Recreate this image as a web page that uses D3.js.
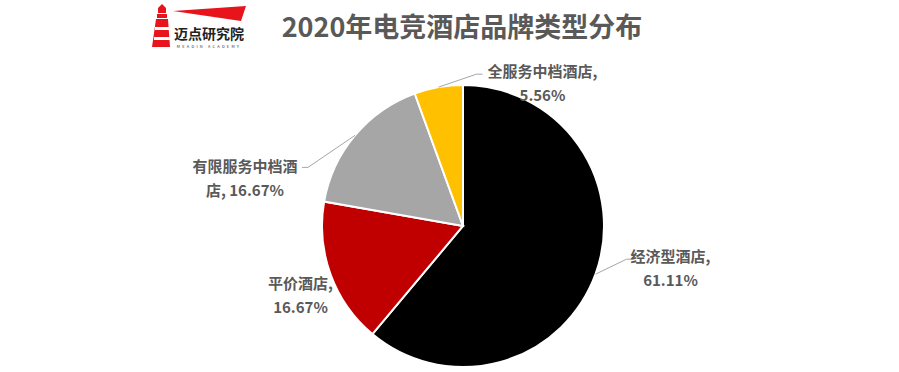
<!DOCTYPE html>
<html>
<head>
<meta charset="utf-8">
<script src="https://cdn.jsdelivr.net/npm/d3@7"></script>
<style>
  body { margin: 0; background: #fff; }
  svg text { font-family: "Noto Sans CJK SC", "Noto Sans", sans-serif; }
</style>
</head>
<body>
<div id="viz"></div>
<script>
// data
const categories = ["经济型酒店", "平价酒店", "有限服务中档酒店", "全服务中档酒店"];
const shares = [61.11, 16.67, 16.67, 5.56];
const colors = ["#000000", "#c00000", "#a6a6a6", "#ffc000"];
const title = "2020年电竞酒店品牌类型分布";

// label layout: two text lines per slice, offsets relative to the slice's outer mid point
const labelLines = [
  [categories[0] + ",", shares[0].toFixed(2) + "%"],
  [categories[1] + ",", shares[1].toFixed(2) + "%"],
  ["有限服务中档酒", "店, " + shares[2].toFixed(2) + "%"],
  [categories[3] + ",", shares[3].toFixed(2) + "%"]
];
const labelPos = [
  { dx: 75, dy: -12, elbow: [31, -15], end: [36, -15] },
  { dx: -30, dy: 15, elbow: null },
  { dx: -110, dy: 37, elbow: [-47, 32], end: [-53, 32] },
  { dx: 104, dy: -10, elbow: [38, -13], end: [44, -13] }
];

const width = 899, height = 372;
const cx = 463, cy = 226, radius = 141;

const svg = d3.select("#viz").append("svg")
  .attr("width", width)
  .attr("height", height);

// logo
const logo = svg.append("g");
logo.append("path")
  .attr("d", "M158,8 L162,4 L166,8 L166,13 L158,13 Z M157,14 L167,14 L167,18 L157,18 Z M156,19 L168,19 L170,47 L152,47 Z")
  .attr("fill", "#e8141c");
logo.append("rect").attr("x", 155).attr("y", 27).attr("width", 14).attr("height", 3).attr("fill", "#fff");
logo.append("rect").attr("x", 154).attr("y", 37).attr("width", 16).attr("height", 3).attr("fill", "#fff");
logo.append("path")
  .attr("d", "M173,11 L246,6 L241,21 Z")
  .attr("fill", "#e8141c");
logo.append("text")
  .attr("x", 209).attr("y", 39)
  .attr("text-anchor", "middle")
  .attr("font-size", "14px")
  .attr("font-weight", "bold")
  .attr("fill", "#222")
  .text("迈点研究院");
logo.append("text")
  .attr("x", 209).attr("y", 48)
  .attr("text-anchor", "middle")
  .attr("font-size", "4px")
  .attr("letter-spacing", "2.2px")
  .attr("fill", "#333")
  .text("MEADIN ACADEMY");

// title
svg.append("text")
  .attr("x", 462).attr("y", 37)
  .attr("text-anchor", "middle")
  .attr("font-size", "27px")
  .attr("font-weight", "bold")
  .attr("fill", "#595959")
  .text(title);

// pie
const pie = d3.pie().sort(null).value(d => d);
const arcs = pie(shares);
const arc = d3.arc().innerRadius(0).outerRadius(radius);

const g = svg.append("g").attr("transform", `translate(${cx},${cy})`);
g.selectAll("path.slice")
  .data(arcs)
  .join("path")
  .attr("class", "slice")
  .attr("d", arc)
  .attr("fill", (d, i) => colors[i])
  .attr("stroke", "#fff")
  .attr("stroke-width", 2);

// labels
arcs.forEach((d, i) => {
  const mid = (d.startAngle + d.endAngle) / 2;
  const px = Math.sin(mid) * radius;
  const py = -Math.cos(mid) * radius;
  const lp = labelPos[i];
  if (lp.elbow) {
    g.append("polyline")
      .attr("points", [[px, py], [px + lp.elbow[0], py + lp.elbow[1]], [px + lp.end[0], py + lp.end[1]]].map(p => p.join(",")).join(" "))
      .attr("fill", "none")
      .attr("stroke", "#a6a6a6")
      .attr("stroke-width", 1);
  }
  const t = g.append("text")
    .attr("text-anchor", "middle")
    .attr("font-size", "15px")
    .attr("font-weight", "bold")
    .attr("fill", "#595959");
  labelLines[i].forEach((line, k) => {
    t.append("tspan")
      .attr("x", px + lp.dx)
      .attr("y", py + lp.dy + k * 24)
      .text(line);
  });
});
</script>
</body>
</html>
